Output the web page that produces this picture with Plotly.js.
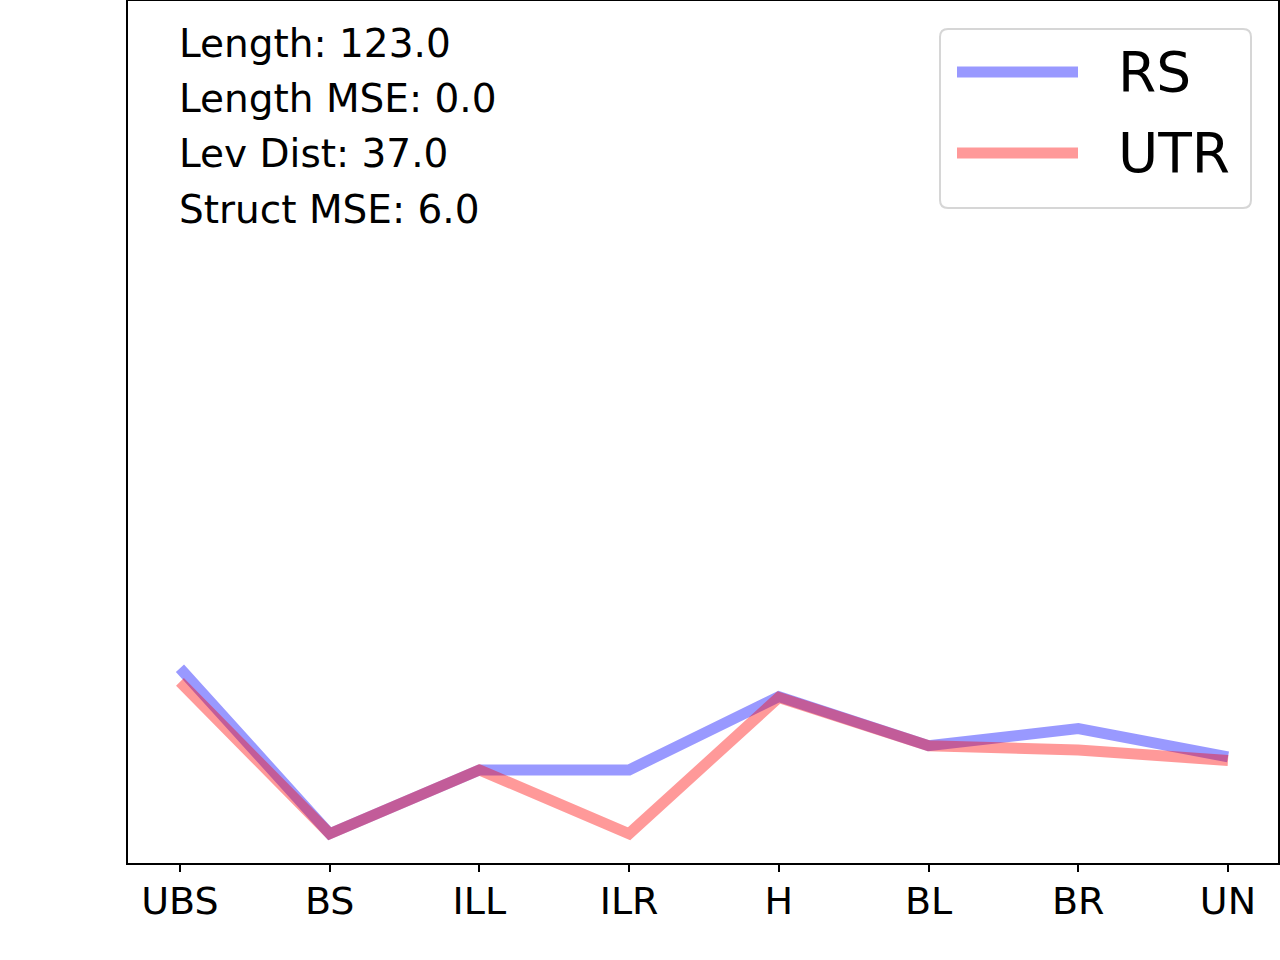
<!DOCTYPE html>
<html>
<head>
<meta charset="utf-8">
<script src="https://cdn.plot.ly/plotly-3.0.1.min.js"></script>
<style>
  html, body { margin: 0; padding: 0; background: #fff; }
  #chart { width: 1280px; height: 960px; }
</style>
</head>
<body>
<div id="chart"></div>
<script>
const categories = ["UBS", "BS", "ILL", "ILR", "H", "BL", "BR", "UN"];
const seriesNames = ["RS", "UTR"];
const rsValues = [22.6, 3.4, 10.8, 10.8, 19.3, 13.6, 15.6, 12.3];
const utrValues = [21.0, 3.4, 10.8, 3.4, 19.2, 13.6, 13.1, 11.9];
const metricLines = ["Length: 123.0", "Length MSE: 0.0", "Lev Dist: 37.0", "Struct MSE: 6.0"];

const seriesColors = ["rgba(0,0,255,0.4)", "rgba(255,0,0,0.4)"];
const font = "DejaVu Sans, sans-serif";

const traces = [rsValues, utrValues].map((vals, i) => ({
  type: "scatter",
  mode: "lines",
  x: categories,
  y: vals,
  name: seriesNames[i],
  line: { color: seriesColors[i], width: 11 },
  showlegend: false,
  hoverinfo: "skip",
}));

// plot area in pixels: left 128, right 1278, top 1, bottom 863
const px = (x) => (x - 128) / 1150;
const py = (y) => 1 - (y - 1) / 862;

// metric text, top left
const annotations = metricLines.map((t, i) => ({
  text: t,
  xref: "paper", yref: "paper",
  x: px(177), y: py(43 + i * 55.4),
  xanchor: "left", yanchor: "middle",
  showarrow: false,
  font: { family: font, size: 39, color: "#000" },
}));

// hand-drawn legend (matplotlib-like, long line samples, rounded box)
const bx0 = px(940), bx1 = px(1251), by0 = py(208), by1 = py(29);
const rx = 8 / 1150, ry = 8 / 862;
const boxPath =
  `M${bx0 + rx},${by1} L${bx1 - rx},${by1} Q${bx1},${by1} ${bx1},${by1 - ry} ` +
  `L${bx1},${by0 + ry} Q${bx1},${by0} ${bx1 - rx},${by0} ` +
  `L${bx0 + rx},${by0} Q${bx0},${by0} ${bx0},${by0 + ry} ` +
  `L${bx0},${by1 - ry} Q${bx0},${by1} ${bx0 + rx},${by1} Z`;

const shapes = [{
  type: "path", xref: "paper", yref: "paper", path: boxPath,
  fillcolor: "rgba(255,255,255,0.8)", line: { color: "#d6d6d6", width: 2 },
}];

seriesNames.forEach((name, i) => {
  const yy = py(72 + i * 81);
  shapes.push({
    type: "line", xref: "paper", yref: "paper",
    x0: px(957), x1: px(1078), y0: yy, y1: yy,
    line: { color: seriesColors[i], width: 11 },
  });
  annotations.push({
    text: name,
    xref: "paper", yref: "paper",
    x: px(1116), y: yy,
    xanchor: "left", yanchor: "middle",
    showarrow: false,
    font: { family: font, size: 55, color: "#000" },
  });
});

const layout = {
  width: 1280,
  height: 960,
  paper_bgcolor: "#fff",
  plot_bgcolor: "#fff",
  margin: { l: 128, r: 2, t: 1, b: 97 },
  font: { family: font, color: "#000" },
  showlegend: false,
  xaxis: {
    type: "category",
    range: [-0.347, 7.334],
    showgrid: false,
    zeroline: false,
    showline: true,
    mirror: true,
    linecolor: "#000",
    linewidth: 2,
    ticks: "outside",
    ticklen: 7,
    tickwidth: 2,
    tickcolor: "#000",
    ticklabelstandoff: -4,
    tickfont: { family: font, size: 38, color: "#000" },
  },
  yaxis: {
    range: [0, 100],
    showgrid: false,
    zeroline: false,
    showline: true,
    mirror: true,
    linecolor: "#000",
    linewidth: 2,
    ticks: "",
    showticklabels: false,
  },
  shapes: shapes,
  annotations: annotations,
};

Plotly.newPlot("chart", traces, layout, { displayModeBar: false, staticPlot: true });
</script>
</body>
</html>
